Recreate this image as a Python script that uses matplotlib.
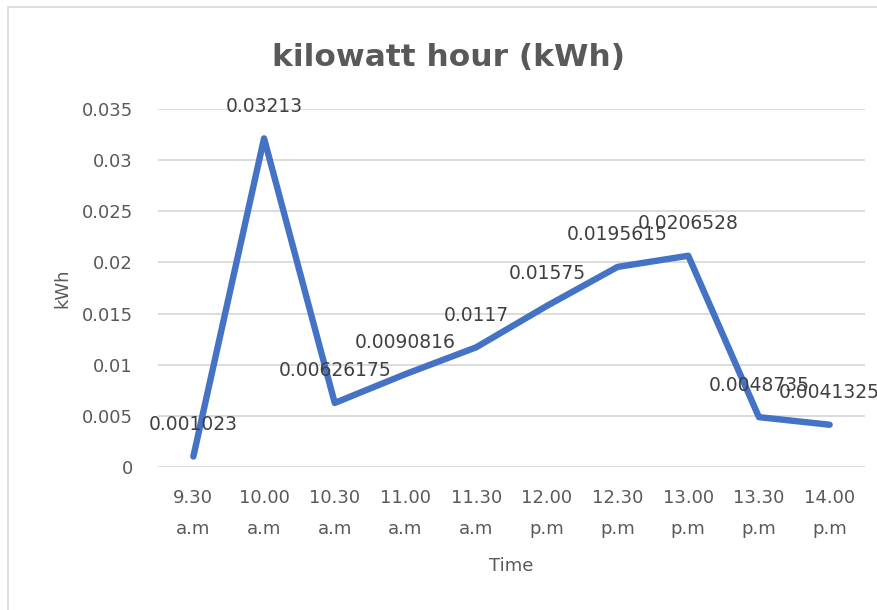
import matplotlib
matplotlib.use("Agg")
import matplotlib.pyplot as plt
from matplotlib.patches import Rectangle

times = ["9.30\na.m", "10.00\na.m", "10.30\na.m", "11.00\na.m", "11.30\na.m",
         "12.00\np.m", "12.30\np.m", "13.00\np.m", "13.30\np.m", "14.00\np.m"]
kwh = [0.001023, 0.03213, 0.00626175, 0.0090816, 0.0117,
       0.01575, 0.0195615, 0.0206528, 0.0048735, 0.0041325]
labels = ["0.001023", "0.03213", "0.00626175", "0.0090816", "0.0117",
          "0.01575", "0.0195615", "0.0206528", "0.0048735", "0.0041325"]
yticks = [0, 0.005, 0.01, 0.015, 0.02, 0.025, 0.03, 0.035]
ytick_labels = ["0", "0.005", "0.01", "0.015", "0.02", "0.025", "0.03", "0.035"]

plt.rcParams['font.family'] = ['DejaVu Sans']
W, H = 878, 610
fig = plt.figure(figsize=(W/100, H/100), dpi=100)
fig.patch.set_facecolor("white")

# outer chart border
fig.patches.append(Rectangle((8/W, -0.05), 1.1, 1 - 7/H + 0.05, transform=fig.transFigure,
                             fill=False, edgecolor="#D9D9D9", lw=1.2))

left, right = 158/W, 865/W
bottom, top = 1 - 467/H, 1 - 109/H
ax = fig.add_axes([left, bottom, right - left, top - bottom])

x = list(range(len(times)))
ax.plot(x, kwh, color="#4472C4", lw=4.6, solid_joinstyle="round", solid_capstyle="round", zorder=3)

for xi, yi, lab in zip(x, kwh, labels):
    ax.annotate(lab, (xi, yi), xytext=(0, 32), textcoords="offset pixels",
                ha="center", va="center", fontsize=13.5, color="#404040", zorder=4,
                annotation_clip=False)

ax.set_xlim(-0.5, len(times) - 0.5)
ax.set_ylim(0, 0.035)
ax.set_yticks(yticks)
ax.set_yticklabels(ytick_labels)
ax.set_xticks(x)
ax.set_xticklabels(times, linespacing=1.9)

ax.grid(axis="y", color="#D9D9D9", lw=1.3)
ax.set_axisbelow(True)
for s in ax.spines.values():
    s.set_visible(False)
ax.tick_params(axis="both", length=0, colors="#595959", labelsize=13)
ax.tick_params(axis="y", pad=18)
ax.tick_params(axis="x", pad=16)

fig.text(62/W, 1 - 288/H, "kWh", rotation=90, ha="center", va="center",
         fontsize=13, color="#595959")
fig.text(511/W, 1 - 566/H, "Time", ha="center", va="center",
         fontsize=13, color="#595959")
fig.text(449/W, 1 - 57/H, "kilowatt hour (kWh)", ha="center", va="center",
         fontsize=22.5, fontweight="bold", color="#595959")

fig.savefig("out.png", dpi=100, facecolor="white")
